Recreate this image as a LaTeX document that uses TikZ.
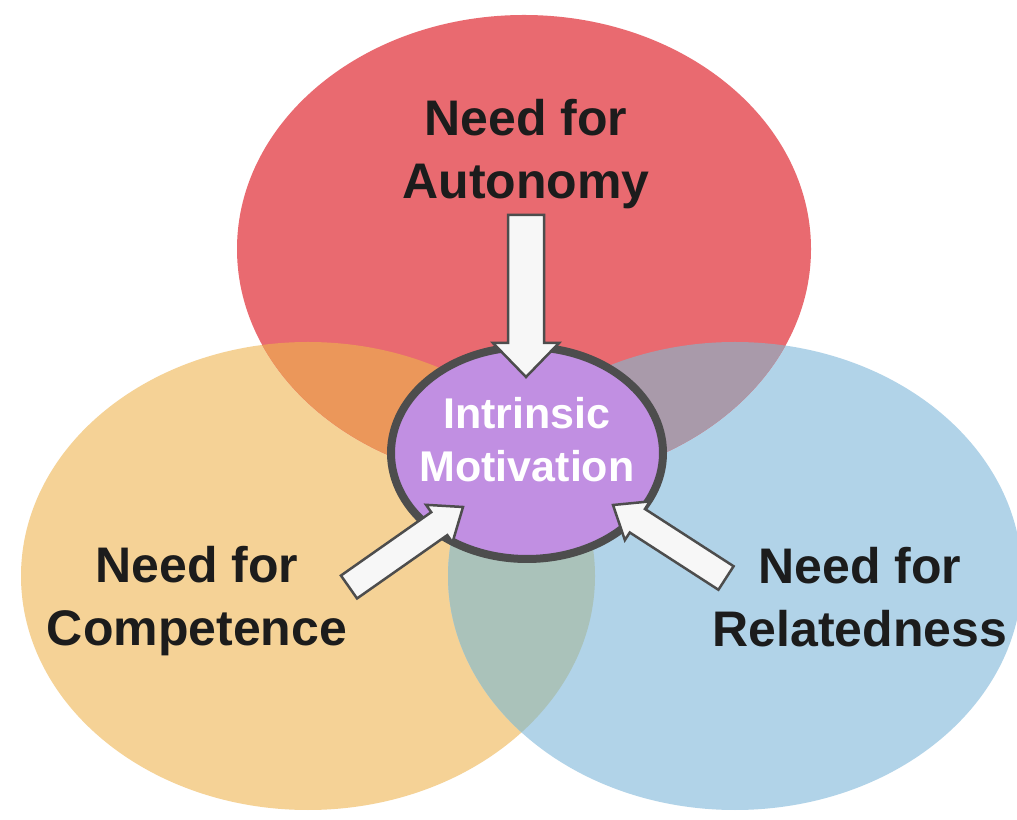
\documentclass[tikz,border=0pt]{standalone}
\usepackage{fontspec}
\setmainfont{Liberation Sans}
\usetikzlibrary{calc,shapes.geometric}

\definecolor{autored}{RGB}{233,106,112}
\definecolor{compyellow}{RGB}{245,210,150}
\definecolor{relblue}{RGB}{177,211,232}
\definecolor{redorange}{RGB}{235,151,90}
\definecolor{redblue}{RGB}{169,154,170}
\definecolor{orangeblue}{RGB}{170,194,186}
\definecolor{motpurple}{RGB}{193,143,226}
\definecolor{rimgray}{RGB}{77,77,77}
\definecolor{labelblack}{RGB}{28,28,28}

% block arrow: from, to, half shaft, half head, head length
\newcommand{\fatarrow}[5]{%
  \draw[fat arrow] let \p1 = ($(#2)-(#1)$), \n1 = {atan2(\y1,\x1)}, \n2 = {veclen(\x1,\y1)} in
    [shift={(#1)}, rotate=\n1]
    (0,-#3) -- ({\n2-#5},-#3) -- ({\n2-#5},-#4) -- (\n2,0) -- ({\n2-#5},#4) -- ({\n2-#5},#3) -- (0,#3) -- cycle;}

\begin{document}
\begin{tikzpicture}[x=1pt, y=1pt,
    need/.style={font=\bfseries\fontsize{50}{63}\selectfont, text=labelblack, align=center, inner sep=0pt},
    motlabel/.style={font=\bfseries\fontsize{43}{53}\selectfont, text=white, align=center, inner sep=0pt},
    fat arrow/.style={fill=white!97!black, draw=rimgray, line width=2.5pt, line join=miter}]
    \fill[white] (0,0) rectangle (1017,819);
    \useasboundingbox (0,0) rectangle (1017,819);

    % Three needs
    \fill[compyellow] (308,243) ellipse [x radius=287pt, y radius=234pt];
    \fill[relblue] (735,243) ellipse [x radius=287pt, y radius=234pt];
    \fill[autored] (524,570) ellipse [x radius=287pt, y radius=234pt];

    % Overlaps
    \begin{scope}
        \clip (524,570) ellipse [x radius=287pt, y radius=234pt];
        \fill[redorange] (308,243) ellipse [x radius=287pt, y radius=234pt];
        \fill[redblue] (735,243) ellipse [x radius=287pt, y radius=234pt];
    \end{scope}
    \begin{scope}
        \clip (308,243) ellipse [x radius=287pt, y radius=234pt];
        \fill[orangeblue] (735,243) ellipse [x radius=287pt, y radius=234pt];
    \end{scope}

    % Centre
    \node[ellipse, draw=rimgray, fill=motpurple, line width=8pt, minimum width=272pt, minimum height=212pt, inner sep=0pt] (mot) at (527,366) {};
    \node[motlabel] (motText) at ($(mot.center)+(0,13)$) {Intrinsic\\Motivation};

    % Labels
    \node[need] (autonomy) at (526,665) {Need for\\Autonomy};
    \node[need] (competence) at (197,218) {Need for\\Competence};
    \node[need] (relatedness) at (860,222) {Need for\\Relatedness};

    % Arrows into the centre
    \coordinate (autoTail) at (526,604);
    \coordinate (autoTip) at (526,442);
    \coordinate (compTail) at (349,232);
    \coordinate (compTip) at (463,312);
    \coordinate (relTail) at (726,241);
    \coordinate (relTip) at (613,314);
    \fatarrow{autoTail}{autoTip}{18}{33}{34}
    \fatarrow{compTail}{compTip}{14}{23}{29}
    \fatarrow{relTail}{relTip}{14}{23}{29}
\end{tikzpicture}
\end{document}
